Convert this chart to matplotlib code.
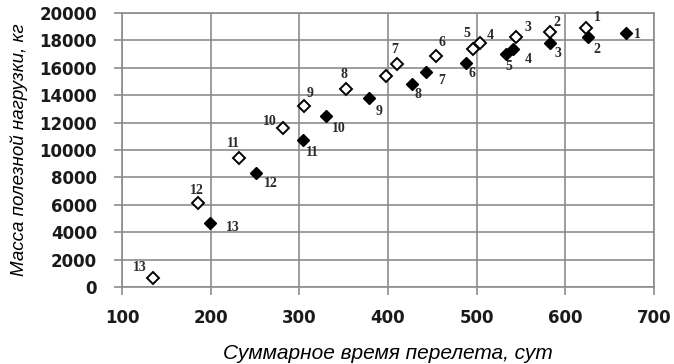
import matplotlib.pyplot as plt

# Открытые ромбы (без заливки)
open_x = [624, 583, 545, 504, 496, 454, 410, 398, 353, 305, 282, 232, 186, 135]
open_y = [18900, 18610, 18250, 17810, 17370, 16860, 16280, 15400, 14450, 13200, 11600, 9420, 6130, 660]
open_lbl = ['1', '2', '3', '4', '5', '6', '7', '', '8', '9', '10', '11', '12', '13']

# Закрашенные ромбы
fill_x = [669, 626, 583, 541, 533, 488, 443, 427, 379, 330, 304, 251, 199]
fill_y = [18540, 18250, 17810, 17370, 17000, 16350, 15690, 14820, 13800, 12480, 10730, 8320, 4670]
fill_lbl = ['1', '2', '3', '4', '5', '6', '7', '8', '9', '10', '11', '12', '13']

# смещения подписей (в пикселях)
open_off = [(11, 11), (7, 10), (12, 10), (10, 8), (-6, 16), (6, 14), (-2, 15), (0, 0),
            (-2, 15), (6, 13), (-13, 7), (-6, 15), (-1, 13), (-13, 10)]
fill_off = [(11, -1), (9, -12), (8, -10), (15, -10), (3, -12), (6, -10), (16, -8), (6, -10),
            (10, -13), (13, -12), (10, -12), (15, -10), (23, -4)]

fig = plt.figure(figsize=(6.74, 3.64), dpi=100)
ax = fig.add_axes([0.181, 0.2115, 0.789, 0.7525])

ax.plot(open_x, open_y, 'D', ms=6, mfc='white', mec='black', mew=1.4, zorder=3)
ax.plot(fill_x, fill_y, 'D', ms=6.3, mfc='black', mec='black', zorder=3)

for x, y, t, o in zip(open_x, open_y, open_lbl, open_off):
    ax.annotate(t, (x, y), xytext=o, textcoords='offset pixels', ha='center', va='center',
                fontsize=10, fontweight='bold', family='Liberation Serif', color='#2a2a2a')
for x, y, t, o in zip(fill_x, fill_y, fill_lbl, fill_off):
    ax.annotate(t, (x, y), xytext=o, textcoords='offset pixels', ha='center', va='center',
                fontsize=10, fontweight='bold', family='Liberation Serif', color='#2a2a2a')

ax.set_xlim(100, 700)
ax.set_ylim(0, 20000)
ax.set_xticks(range(100, 701, 100))
ax.set_yticks(range(0, 20001, 2000))
ax.grid(True, color='#8c8c8c', lw=1.2)
ax.set_axisbelow(True)
for s in ax.spines.values():
    s.set_color('#8c8c8c')
    s.set_linewidth(1.2)
ax.tick_params(direction='out', length=6, width=1.2, color='#8c8c8c', labelsize=12)
ax.tick_params(axis='y', pad=12)
ax.tick_params(axis='x', pad=10)
for lab in ax.get_xticklabels() + ax.get_yticklabels():
    lab.set_fontweight('bold')
    lab.set_color('#1a1a1a')

ax.set_xlabel('Суммарное время перелета, сут', fontsize=15, style='italic',
              family='Liberation Sans', labelpad=12)
ax.set_ylabel('Масса полезной нагрузки, кг', fontsize=13.5, style='italic',
              family='Liberation Sans', labelpad=8)

fig.savefig('out.png', dpi=100)
